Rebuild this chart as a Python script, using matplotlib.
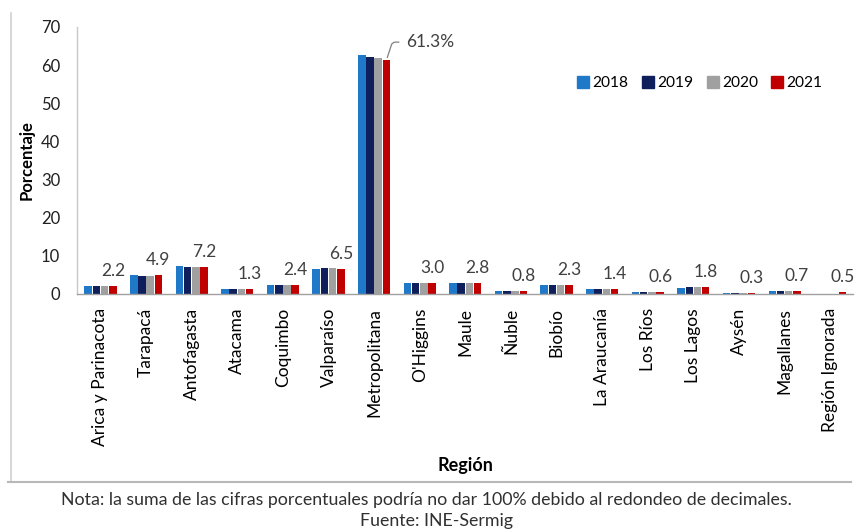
import matplotlib
matplotlib.use("Agg")
import matplotlib.pyplot as plt
import numpy as np
from matplotlib.lines import Line2D

plt.rcParams["font.family"] = ["Lato", "DejaVu Sans"]

regiones = ["Arica y Parinacota", "Tarapacá", "Antofagasta", "Atacama", "Coquimbo",
            "Valparaíso", "Metropolitana", "O'Higgins", "Maule", "Ñuble", "Biobío",
            "La Araucanía", "Los Ríos", "Los Lagos", "Aysén", "Magallanes",
            "Región Ignorada"]
anios = ["2018", "2019", "2020", "2021"]
v2018 = [2.0, 5.0, 7.3, 1.3, 2.3, 6.5, 62.6, 3.0, 2.9, 0.8, 2.4, 1.4, 0.6, 1.7, 0.3, 0.7, 0.0]
v2019 = [2.0, 4.7, 7.1, 1.3, 2.4, 6.8, 62.1, 3.0, 2.9, 0.8, 2.4, 1.4, 0.6, 1.9, 0.3, 0.7, 0.0]
v2020 = [2.0, 4.7, 7.0, 1.2, 2.4, 6.7, 62.0, 2.9, 2.8, 0.8, 2.3, 1.4, 0.6, 1.9, 0.3, 0.7, 0.0]
v2021 = [2.2, 4.9, 7.2, 1.3, 2.4, 6.5, 61.3, 3.0, 2.8, 0.8, 2.3, 1.4, 0.6, 1.8, 0.3, 0.7, 0.5]
series = [v2018, v2019, v2020, v2021]
colores = ["#1F78C8", "#0E1F5B", "#A0A0A0", "#C00000"]

W, H = 857, 529
fig = plt.figure(figsize=(W / 100, H / 100), dpi=100)

def fx(px):
    return px / W

def fy(py):
    return 1 - py / H

ax_l, ax_r, ax_t, ax_b = 77, 853, 27, 294
ax = fig.add_axes([fx(ax_l), fy(ax_b), fx(ax_r - ax_l), (ax_b - ax_t) / H])

x = np.arange(len(regiones))
paso = 0.18
ancho = 0.165
desplaz = [-1.5 * paso, -0.5 * paso, 0.5 * paso, 1.5 * paso]
for vals, col, d, lab in zip(series, colores, desplaz, anios):
    ax.bar(x + d, vals, width=ancho, color=col, label=lab, zorder=2)

ax.set_xlim(-0.515, 16.5)
ax.set_ylim(0, 70)
ax.set_yticks(range(0, 71, 10))
ax.set_xticks(x)
ax.set_xticklabels(regiones, rotation=90, fontsize=12.5, color="#000000")
ax.tick_params(axis="both", length=0)
ax.tick_params(axis="x", pad=10)
ax.tick_params(axis="y", labelsize=12, pad=12, labelcolor="#202020")
for s in ["top", "right"]:
    ax.spines[s].set_visible(False)
ax.spines["left"].set_color("#C8C8C8")
ax.spines["bottom"].set_color("#A0A0A0")
ax.spines["left"].set_linewidth(1.0)
ax.spines["bottom"].set_linewidth(1.0)

# 2021 value labels above the red bars
for i, v in enumerate(v2021):
    if regiones[i] == "Metropolitana":
        continue
    ax.annotate(f"{v:.1f}", xy=(x[i] + desplaz[3], v), xytext=(0, 5),
                textcoords="offset points", ha="center", va="bottom",
                fontsize=12.5, color="#404040")

im = regiones.index("Metropolitana")
ax.annotate(f"{v2021[im]:.1f}%", xy=(x[im] + desplaz[3], v2021[im]),
            xytext=(14, 13), textcoords="offset points", ha="left", va="center",
            fontsize=12.5, color="#404040",
            arrowprops=dict(arrowstyle="-", color="#808080", lw=0.9,
                            shrinkA=3, shrinkB=2,
                            connectionstyle="angle,angleA=0,angleB=72,rad=3"))

handles = [Line2D([0], [0], marker="s", linestyle="none", markersize=8,
                  markerfacecolor=c, markeredgecolor=c) for c in colores]
fig.legend(handles, anios, loc="center", bbox_to_anchor=(fx(700), fy(83)),
           ncol=4, frameon=False, fontsize=11.2, handlelength=0.7,
           handletextpad=0.25, columnspacing=0.9)

fig.text(fx(27), fy(160), "Porcentaje", rotation=90, ha="center", va="center",
         fontsize=12, fontweight="bold")
fig.text(fx(465), fy(465), "Región", ha="center", va="center",
         fontsize=13, fontweight="bold")

# chart frame
fig.add_artist(Line2D([fx(11), fx(11)], [fy(13), fy(482)], color="#D0D0D0", lw=1.2))
fig.add_artist(Line2D([fx(8), fx(851)], [fy(482), fy(482)], color="#B8B8B8", lw=1.5))

fig.text(fx(426), fy(500),
         "Nota: la suma de las cifras porcentuales podría no dar 100% debido al redondeo de decimales.",
         ha="center", va="center", fontsize=12.75, color="#303030")
fig.text(fx(437), fy(521), "Fuente: INE-Sermig", ha="center", va="center",
         fontsize=12.75, color="#303030")

fig.savefig("out.png", dpi=100, facecolor="white")
